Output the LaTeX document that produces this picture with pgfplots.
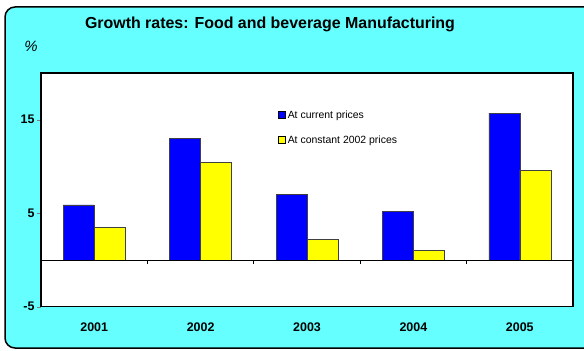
\documentclass[border=0pt]{standalone}
\usepackage{pgfplots}
\pgfplotsset{compat=1.18}
\usepackage{fontspec}
\setmainfont{Liberation Sans}
\definecolor{bgcyan}{RGB}{102,255,255}
\definecolor{barblue}{RGB}{0,0,255}
\definecolor{baryellow}{RGB}{255,255,0}
\begin{document}
\begin{tikzpicture}[x=1bp,y=1bp]
\useasboundingbox (0,0) rectangle (584,350);
\begin{scope}
\clip (0,0) rectangle (584,350);
\fill[white] (0,0) rectangle (584,350);
\draw[line width=1.5bp, fill=bgcyan, rounded corners=10bp] (5,2) rectangle (600,343);
\end{scope}
\node[font=\bfseries\fontsize{16}{19}\selectfont] at (270,326) {Growth rates: Food and beverage Manufacturing};
\node[font=\itshape\fontsize{15}{18}\selectfont] at (31,304) {\%};
\begin{axis}[
  at={(41bp,43.3bp)}, anchor=south west,
  scale only axis, width=532bp, height=233.7bp,
  xmin=0.5, xmax=5.5, ymin=-5, ymax=20,
  ybar=0pt, bar width=31bp,
  axis background/.style={fill=white},
  axis line style={line width=1.2bp, black},
  xtick={1,2,3,4,5},
  xticklabels={2001,2002,2003,2004,2005},
  major x tick style={draw=none},
  ytick={-5,5,15},
  tick align=outside, major tick length=4bp,
  ytick pos=left,
  /pgf/number format/assume math mode=true,
  ticklabel style={font=\bfseries\fontsize{12.5}{15}\selectfont},
  xticklabel style={yshift=-9bp},
  yticklabel style={xshift=1bp},
  legend style={at={(0.44,0.857)}, anchor=north west, draw=none, fill=none,
    font=\fontsize{10.5}{12.6}\selectfont, row sep=12bp, cells={anchor=west}},
  legend image code/.code={\draw[#1, draw=black, line width=0.5bp] (-4bp,-3.5bp) rectangle (3bp,3.5bp);},
  every axis plot/.append style={draw=black!75, line width=0.6bp},
]
\addplot[fill=barblue] coordinates {(1,5.9) (2,13.0) (3,7.0) (4,5.2) (5,15.7)};
\addplot[fill=baryellow] coordinates {(1,3.5) (2,10.4) (3,2.2) (4,1.0) (5,9.6)};
\legend{At current prices, At constant 2002 prices}
\draw[black, line width=0.8bp] (axis cs:0.5,0) -- (axis cs:5.5,0);
\pgfplotsinvokeforeach{1.5,2.5,3.5,4.5}{\draw[black, line width=0.8bp] (axis cs:#1,0) -- (axis cs:#1,-0.43);}
\end{axis}
\end{tikzpicture}
\end{document}
